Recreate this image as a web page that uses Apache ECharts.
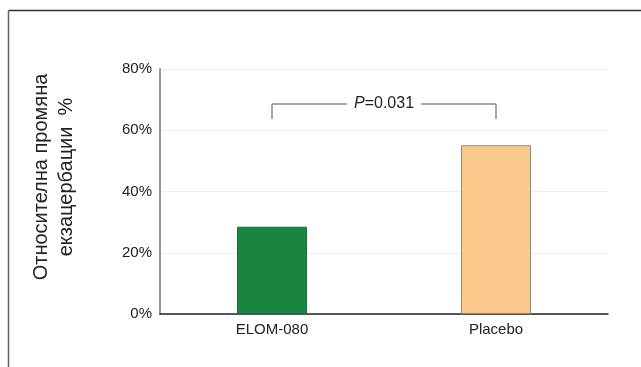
<!DOCTYPE html>
<html>
<head>
<meta charset="utf-8">
<script src="https://cdn.jsdelivr.net/npm/echarts@6/dist/echarts.min.js"></script>
<style>
html,body{margin:0;padding:0;background:#fff;}
#c{width:641px;height:367px;}
</style>
</head>
<body>
<div id="c"></div>
<script>
var categories = ['ELOM-080', 'Placebo'];
var values = [28.5, 55.1];
var barColors = ['#1a8540', '#fcc98c'];
var barBorders = ['#176f36', '#8f8b78'];
var yTicks = [0, 20, 40, 60, 80];
var bracketTop = 68.6;
var bracketBottom = 63.7;
var pLabel = ['P', '=0.031'];
var yTitle = ['Относителна промяна', 'екзацербации  %'];

var chart = echarts.init(document.getElementById('c'));
chart.setOption({
  animation: false,
  backgroundColor: '#fff',
  grid: {left: 160, right: 33, top: 69, bottom: 53},
  xAxis: {
    type: 'category',
    data: categories,
    axisLine: {lineStyle: {color: '#222', width: 1.5}},
    axisTick: {show: false},
    axisLabel: {color: '#222', fontSize: 15, fontFamily: 'Liberation Sans', margin: 8}
  },
  yAxis: {
    type: 'value',
    min: yTicks[0],
    max: yTicks[yTicks.length - 1],
    interval: 20,
    axisLine: {show: true, lineStyle: {color: '#999', width: 2}},
    axisTick: {show: false},
    splitLine: {lineStyle: {color: '#eeeeee', width: 1}},
    axisLabel: {color: '#222', fontSize: 15, fontFamily: 'Liberation Sans', margin: 8,
      formatter: function (v) { return v + '%'; }}
  },
  graphic: [
    {type: 'line', shape: {x1: 8.5, y1: 10.5, x2: 641, y2: 10.5}, style: {stroke: '#333', lineWidth: 1.5}},
    {type: 'line', shape: {x1: 8.5, y1: 10.5, x2: 8.5, y2: 367}, style: {stroke: '#666', lineWidth: 1.5}},
    {type: 'text', x: 54, y: 177, rotation: Math.PI / 2,
      style: {text: yTitle.join('\n'), fontSize: 20, fontFamily: 'Liberation Sans', fill: '#222',
        textAlign: 'center', textVerticalAlign: 'middle', lineHeight: 25}}
  ],
  series: [{
    type: 'bar',
    barWidth: 70,
    data: values.map(function (v, i) {
      return {value: v, itemStyle: {color: barColors[i], borderColor: barBorders[i], borderWidth: 1}};
    }),
    markLine: {
      silent: true,
      symbol: 'none',
      lineStyle: {color: '#888', width: 1.5, type: 'solid'},
      label: {show: false},
      data: [
        [{coord: [categories[0], bracketBottom]}, {coord: [categories[0], bracketTop]}],
        [{coord: [categories[1], bracketBottom]}, {coord: [categories[1], bracketTop]}],
        [{coord: [categories[0], bracketTop], label: {show: true, position: 'insideMiddle', distance: 0,
            formatter: '{i|' + pLabel[0] + '}' + pLabel[1],
            backgroundColor: '#fff', padding: [2, 7], color: '#222', fontSize: 16, fontFamily: 'Liberation Sans',
            verticalAlign: 'middle',
            rich: {i: {fontStyle: 'italic', fontSize: 16, fontFamily: 'Liberation Sans', color: '#222'}}}},
         {coord: [categories[1], bracketTop]}]
      ]
    }
  }]
});
</script>
</body>
</html>
